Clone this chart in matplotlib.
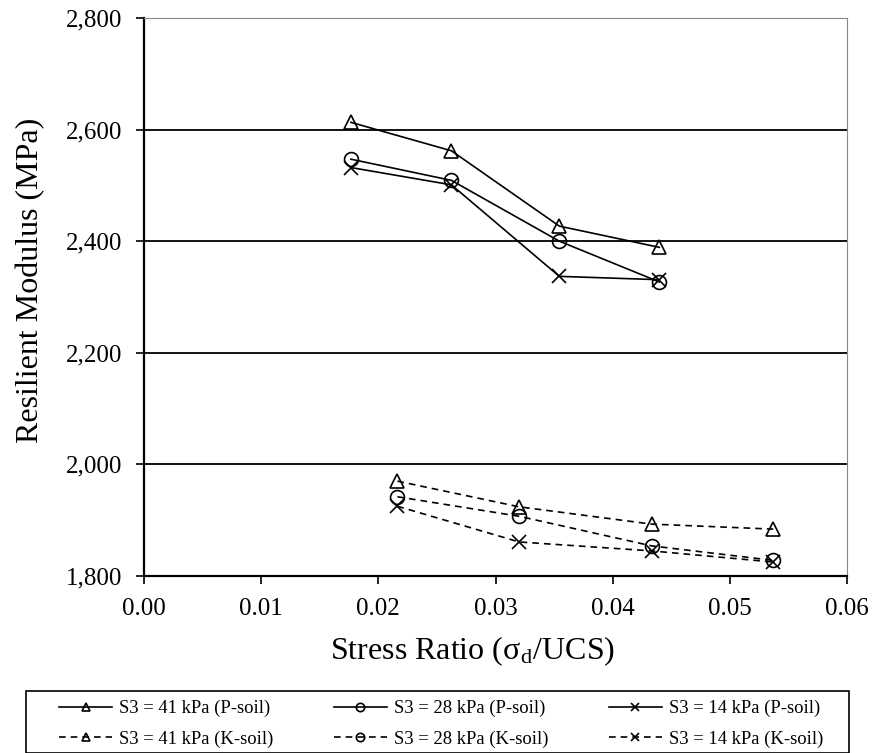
import matplotlib
matplotlib.use('Agg')
import matplotlib.pyplot as plt
from matplotlib.patches import Rectangle
from matplotlib.ticker import StrMethodFormatter

# P-soil data
x_p = [0.01766, 0.02624, 0.03545, 0.04398]
p_41 = [2613, 2562, 2427, 2389]
p_28 = [2547, 2509, 2400, 2327]
p_14 = [2532, 2501, 2337, 2331]

# K-soil data
x_k = [0.02163, 0.03202, 0.04332, 0.05371]
k_41 = [1970, 1924, 1893, 1884]
k_28 = [1942, 1907, 1854, 1828]
k_14 = [1925, 1861, 1845, 1825]

labels_p = ['S3 = 41 kPa (P-soil)', 'S3 = 28 kPa (P-soil)', 'S3 = 14 kPa (P-soil)']
labels_k = ['S3 = 41 kPa (K-soil)', 'S3 = 28 kPa (K-soil)', 'S3 = 14 kPa (K-soil)']
markers = ['^', 'o', 'x']

plt.rcParams.update({
    'font.family': 'serif',
    'font.serif': ['Liberation Serif', 'DejaVu Serif'],
    'mathtext.fontset': 'stix',
})

W, H = 876, 753
fig = plt.figure(figsize=(W / 100, H / 100), dpi=100)
ax = fig.add_axes([144 / W, 1 - 576 / H, 703 / W, 558 / H])

handles = []
for y, m, lab in zip([p_41, p_28, p_14], markers, labels_p):
    h, = ax.plot(x_p, y, color='black', linewidth=1.2, marker=m, markersize=10,
                 markerfacecolor='none', markeredgecolor='black', markeredgewidth=1.2,
                 label=lab)
    handles.append(h)
for y, m, lab in zip([k_41, k_28, k_14], markers, labels_k):
    h, = ax.plot(x_k, y, color='black', linewidth=1.2, linestyle=(0, (4, 3)), marker=m,
                 markersize=10, markerfacecolor='none', markeredgecolor='black',
                 markeredgewidth=1.2, label=lab)
    handles.append(h)

ax.set_xlim(0, 0.06)
ax.set_ylim(1800, 2800)
ax.set_xticks([0.00, 0.01, 0.02, 0.03, 0.04, 0.05, 0.06])
ax.set_yticks([1800, 2000, 2200, 2400, 2600, 2800])
ax.xaxis.set_major_formatter(StrMethodFormatter('{x:.2f}'))
ax.yaxis.set_major_formatter(StrMethodFormatter('{x:,.0f}'))
ax.tick_params(axis='both', direction='out', length=6, width=1.2, labelsize=18, color='black')
ax.tick_params(axis='x', pad=10)
ax.tick_params(axis='y', pad=10)

ax.yaxis.grid(True, color='black', linewidth=1.3)
ax.set_axisbelow(True)
for s in ['left', 'bottom']:
    ax.spines[s].set_linewidth(1.6)
for s in ['top', 'right']:
    ax.spines[s].set_color('#888888')
    ax.spines[s].set_linewidth(0.8)

ax.set_xlabel('Stress Ratio (σ$_\\mathregular{d}$/UCS)', fontsize=23)
ax.set_ylabel('Resilient Modulus (MPa)', fontsize=23)
ax.xaxis.set_label_coords(0.467, -0.105)
ax.yaxis.set_label_coords(-0.141, 0.53)

# legend frame drawn by hand, legend entries placed inside it
fig.patches.append(Rectangle((26 / W, 0), 823 / W, 1 - 691 / H, transform=fig.transFigure,
                             fill=False, edgecolor='black', linewidth=1.2))
order = [0, 3, 1, 4, 2, 5]
leg = fig.legend([handles[i] for i in order], [handles[i].get_label() for i in order],
                 loc='upper left', bbox_to_anchor=(59 / W, 1 - 700 / H),
                 ncol=3, fontsize=13.4, frameon=False, handlelength=2.85,
                 handletextpad=0.4, markerscale=0.6, borderaxespad=0, borderpad=0,
                 columnspacing=3.22, labelspacing=0.72)

fig.savefig('out.png', dpi=100)
